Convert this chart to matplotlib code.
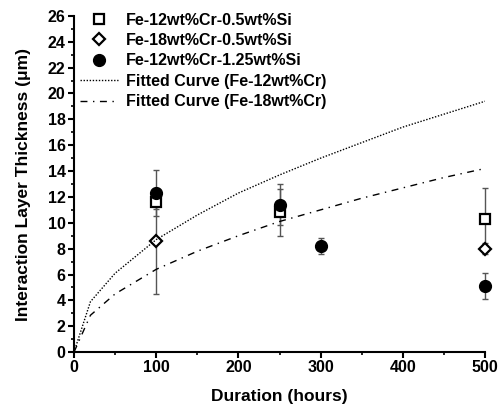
import matplotlib
matplotlib.use("Agg")
import matplotlib.pyplot as plt
from matplotlib.ticker import MultipleLocator

plt.rcParams['font.family'] = ['Liberation Sans', 'DejaVu Sans']
plt.rcParams['font.weight'] = 'bold'

# measured thickness (um) vs duration (hours)
t_12cr_05si = [100, 250, 500]
y_12cr_05si = [11.6, 10.8, 10.3]
e_12cr_05si = [0.5, 1.8, 2.4]

t_18cr_05si = [100, 500]
y_18cr_05si = [8.6, 8.0]
e_18cr_05si = [4.1, 0.4]

t_12cr_125si = [100, 250, 300, 500]
y_12cr_125si = [12.3, 11.4, 8.2, 5.1]
e_12cr_125si = [1.8, 1.6, 0.6, 1.0]

# fitted curves
t_fit = [0, 20, 50, 100, 150, 200, 250, 300, 350, 400, 450, 500]
fit_12cr = [0, 3.9, 6.1, 8.7, 10.6, 12.3, 13.7, 15.0, 16.2, 17.4, 18.4, 19.4]
fit_18cr = [0, 2.85, 4.5, 6.4, 7.8, 9.0, 10.1, 11.0, 11.9, 12.7, 13.5, 14.2]

fig = plt.figure(figsize=(5.0, 4.08), dpi=100)
ax = fig.add_axes([0.148, 0.137, 0.822, 0.824])

eb = dict(fmt='none', ecolor='#555555', elinewidth=1.0, capsize=2.5, capthick=1.0)
for t, y, e in [(t_18cr_05si, y_18cr_05si, e_18cr_05si),
                (t_12cr_05si, y_12cr_05si, e_12cr_05si),
                (t_12cr_125si, y_12cr_125si, e_12cr_125si)]:
    c = ax.errorbar(t, y, yerr=e, **eb)
    for art in c.lines[1] + c.lines[2]:
        art.set_clip_on(False)

l1, = ax.plot(t_12cr_05si, y_12cr_05si, 's', ms=7.5, mfc='white', mec='black', mew=1.6,
              ls='none', clip_on=False, label='Fe-12wt%Cr-0.5wt%Si')
l2, = ax.plot(t_18cr_05si, y_18cr_05si, 'D', ms=5.8, mfc='white', mec='black', mew=1.6,
              ls='none', clip_on=False, label='Fe-18wt%Cr-0.5wt%Si')
l3, = ax.plot(t_12cr_125si, y_12cr_125si, 'o', ms=8.5, mfc='black', mec='black',
              ls='none', clip_on=False, label='Fe-12wt%Cr-1.25wt%Si')
l4, = ax.plot(t_fit, fit_12cr, color='black', lw=1.0, ls=(0, (1, 1.2)),
              label='Fitted Curve (Fe-12wt%Cr)')
l5, = ax.plot(t_fit, fit_18cr, color='black', lw=1.0, ls=(0, (5, 4, 1, 4)),
              label='Fitted Curve (Fe-18wt%Cr)')

ax.set_xlim(0, 500)
ax.set_ylim(0, 26)
ax.xaxis.set_major_locator(MultipleLocator(100))
ax.xaxis.set_minor_locator(MultipleLocator(50))
ax.yaxis.set_major_locator(MultipleLocator(2))
ax.yaxis.set_minor_locator(MultipleLocator(1))
ax.tick_params(which='major', direction='out', length=4, width=1.5, labelsize=11.5, pad=2)
ax.tick_params(which='minor', direction='out', length=2.5, width=1.2)
for s in ['top', 'right']:
    ax.spines[s].set_visible(False)
for s in ['left', 'bottom']:
    ax.spines[s].set_linewidth(1.5)

ax.set_xlabel('Duration (hours)', fontsize=12.5, fontweight='bold', labelpad=10)
ax.set_ylabel('Interaction Layer Thickness (μm)', fontsize=12.5, fontweight='bold', labelpad=12)

ax.legend(handles=[l1, l2, l3, l4, l5], loc='upper left', bbox_to_anchor=(0.015, 1.01),
          frameon=False, fontsize=11.5, handlelength=2.4, handletextpad=0.45,
          labelspacing=0.34, borderaxespad=0, borderpad=0)

fig.savefig('out.png', dpi=100)
